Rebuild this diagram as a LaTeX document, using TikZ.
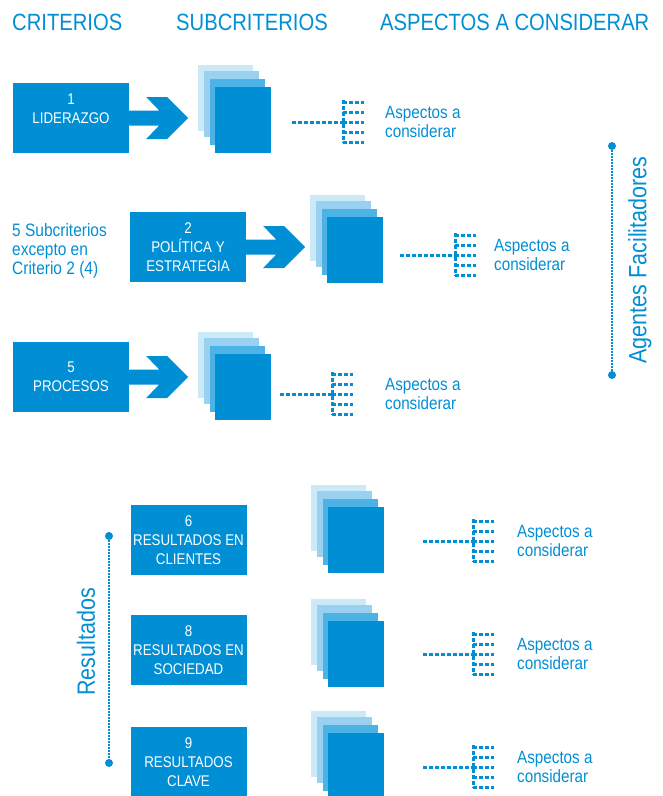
\documentclass[tikz,border=0pt]{standalone}
\usepackage{fontspec}
\setmainfont{Liberation Sans}[FakeStretch=0.86]
\usepackage{tikz}
\usetikzlibrary{positioning}
\definecolor{efqm}{RGB}{0,143,213}
\definecolor{layc}{RGB}{77,179,230}
\definecolor{layb}{RGB}{153,210,240}
\definecolor{laya}{RGB}{204,233,247}

\begin{document}
\begin{tikzpicture}
  [x=1pt,y=-1pt,every node/.style={inner sep=0pt,text=efqm},
   colhead/.style={anchor=base west,font=\fontsize{23.5}{28}\selectfont},
   crit/.style={fill=efqm,text=white,minimum width=116pt,minimum height=70pt,align=center,font=\fontsize{15.5}{19}\selectfont},
   sheet/.style={anchor=north west,minimum width=55pt,minimum height=66pt},
   aspnote/.style={anchor=west,align=left,font=\fontsize{17.7}{18.5}\selectfont},
   treeline/.style={draw=efqm,line width=3pt,dash pattern=on 4pt off 2pt},
   sideline/.style={draw=efqm,line width=2pt,dash pattern=on 1.5pt off 1.5pt},
   bullet/.style={circle,fill=efqm,minimum size=8pt},
   sidetext/.style={rotate=90,font=\fontsize{25}{30}\selectfont},
   chevron/.pic={\fill[efqm] (0,-7.5) -- (30,-7.5) -- (17,-21) -- (38,-21) -- (59,0) -- (38,21) -- (17,21) -- (30,7.5) -- (0,7.5) -- cycle;}]
  \useasboundingbox (0,0) rectangle (663,796);

  \node[colhead] (h1) at (12,30) {CRITERIOS};
  \node[colhead] (h2) at (176,30) {SUBCRITERIOS};
  \node[colhead] (h3) at (380,30) {ASPECTOS A CONSIDERAR};

  \node[crit] (b1) at (71,118) {1\\LIDERAZGO\\~};
  \node[crit] (b2) at (188,247) {2\\POLÍTICA Y\\ESTRATEGIA};
  \node[crit] (b3) at (71,377) {5\\PROCESOS};
  \node[crit] (b4) at (188.5,540) {6\\RESULTADOS EN\\CLIENTES};
  \node[crit] (b5) at (188.5,650) {8\\RESULTADOS EN\\SOCIEDAD};
  \node[crit] (b6) at (188.5,762) {9\\RESULTADOS\\CLAVE};
  \node[aspnote,font=\fontsize{18}{19}\selectfont] (n2) at (12,251) {5 Subcriterios\\excepto en\\Criterio 2 (4)};

  \pic at (b1.east) {chevron};
  \pic at (b2.east) {chevron};
  \pic at (b3.east) {chevron};

  % subcriterio sheets
  \foreach \n/\x/\y in {1/215/87,2/327/217,3/215/354,4/328/507,5/328/621,6/328/733} {
    \node[sheet,fill=laya] (sa\n) at (\x-17,\y-22) {};
    \node[sheet,fill=layb] (sb\n) at (\x-11,\y-16) {};
    \node[sheet,fill=layc] (sc\n) at (\x-5,\y-8) {};
    \node[sheet,fill=efqm,minimum width=56pt] (s\n) at (\x,\y) {};
  }

  % aspectos
  \foreach \n/\s/\jx/\jy/\tx in {1/292/343/122/385,2/400/455/255/494,3/280/332/394/385,4/423/473/541/517,5/423/473/654/517,6/423/473/767/517} {
    \coordinate (m\n) at (\s,\jy);
    \coordinate (j\n) at (\jx,\jy);
    \draw[treeline] (m\n) -- (j\n);
    \draw[treeline] (j\n) ++(0,-22) -- ++(0,43);
    \foreach \d in {-20,-10,0,10,20}
      \draw[treeline] (j\n) ++(0,\d) -- ++(21,0);
    \node[aspnote] (a\n) at (\tx,\jy) {Aspectos a\\considerar};
  }

  \node[bullet] (ag1) at (612,146) {};
  \node[bullet] (ag2) at (612,375) {};
  \draw[sideline] (ag1) -- (ag2);
  \node[sidetext] (ag) at (640,260) {Agentes Facilitadores};

  \node[bullet] (re1) at (109,536) {};
  \node[bullet] (re2) at (109,763) {};
  \draw[sideline] (re1) -- (re2);
  \node[sidetext] (re) at (86,642) {Resultados};
\end{tikzpicture}
\end{document}
